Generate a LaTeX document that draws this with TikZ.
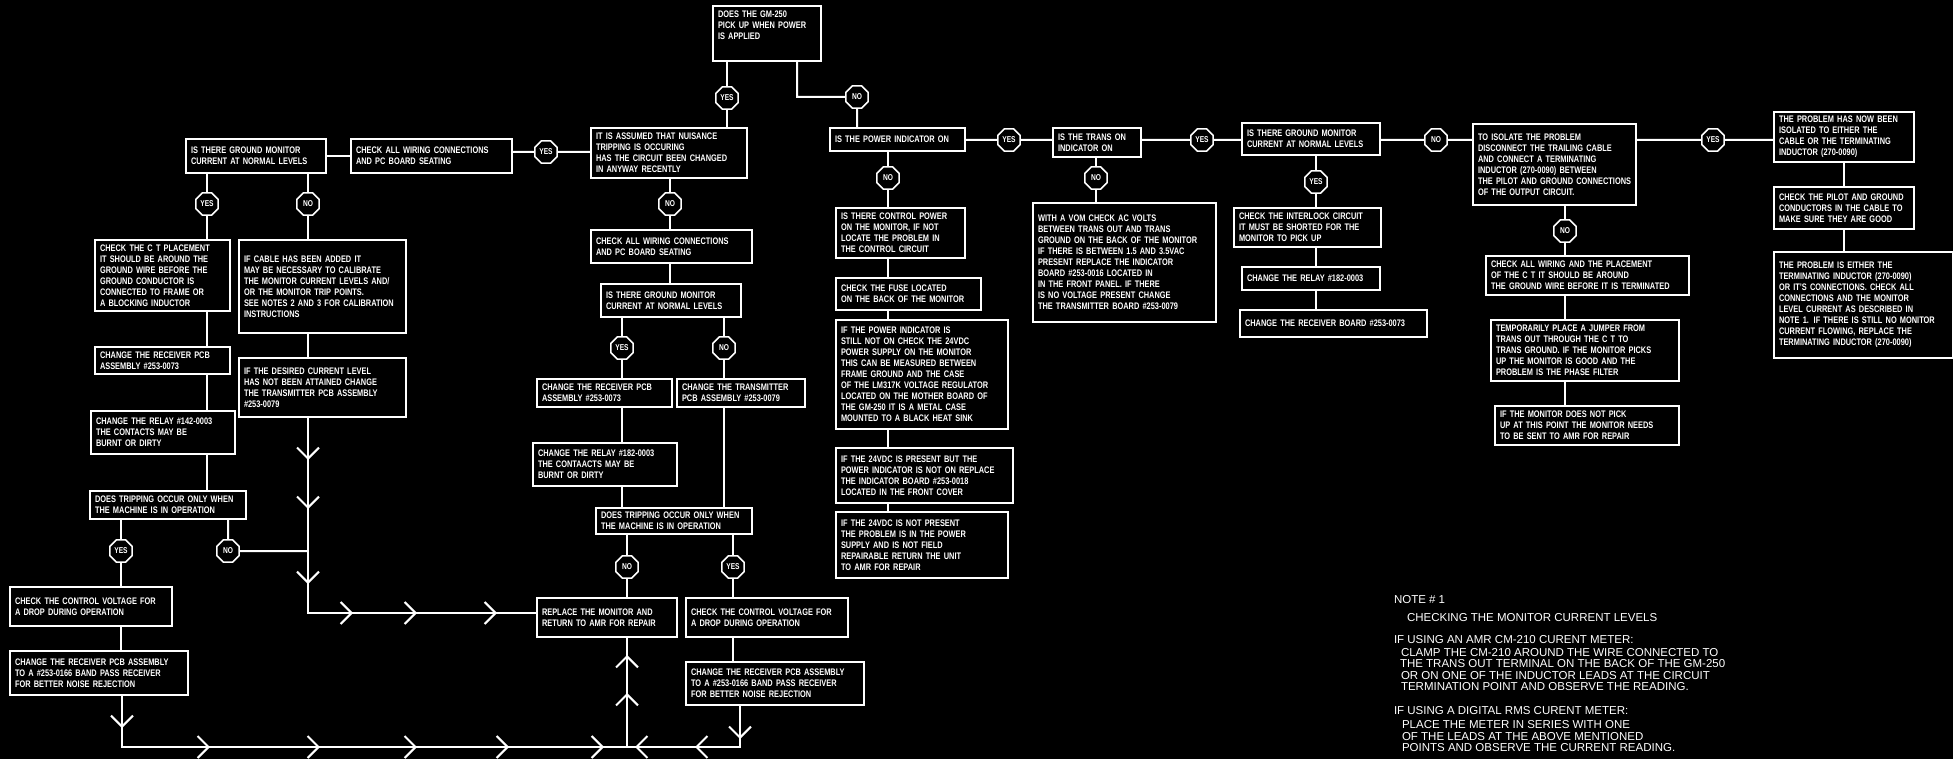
\documentclass[tikz,border=0pt]{standalone}
\usepackage{fontspec}
\setmainfont{Liberation Sans}[FakeStretch=0.78]
\newfontfamily\notefont{Liberation Sans}
\usetikzlibrary{arrows.meta,shapes.geometric,decorations.markings}

\begin{document}
\begin{tikzpicture}[x=1pt,y=-1pt,color=white,line width=2pt,
  box/.style={draw,anchor=north west,align=left,inner xsep=5pt,inner ysep=2pt,font=\fontsize{9.5}{11}\selectfont\bfseries},
  ask/.style={draw,fill=black,regular polygon,regular polygon sides=8,minimum size=24pt,inner sep=0pt,line width=1.6pt,font=\fontsize{8.5}{8.5}\selectfont\bfseries},
  chev/.style={postaction={decorate,decoration={markings,mark=at position #1 with {\arrow{Straight Barb[length=11pt,width=22pt]}}}}}]
\path[use as bounding box,fill=black] (0,0) rectangle (1953,759);
% ---------- left branch ----------
\node[box,text width=130pt,minimum height=34pt] (gmA) at (185,138) {IS THERE GROUND MONITOR\\CURRENT AT NORMAL LEVELS};
\node[box,text width=151pt,minimum height=34pt] (wireA) at (350,138) {CHECK ALL WIRING CONNECTIONS\\AND PC BOARD SEATING};
\node[box,text width=125pt,minimum height=71pt] (ctA) at (94,239) {CHECK THE C T PLACEMENT\\IT SHOULD BE AROUND THE\\GROUND WIRE BEFORE THE\\GROUND CONDUCTOR IS\\CONNECTED TO FRAME OR\\A BLOCKING INDUCTOR};
\node[box,text width=157pt,minimum height=93pt] (cable) at (238,239) {IF CABLE HAS BEEN ADDED IT\\MAY BE NECESSARY TO CALIBRATE\\THE MONITOR CURRENT LEVELS AND/\\OR THE MONITOR TRIP POINTS.\\SEE NOTES 2 AND 3 FOR CALIBRATION\\INSTRUCTIONS};
\node[box,text width=125pt,minimum height=27pt] (rcvA) at (94,346) {CHANGE THE RECEIVER PCB\\ASSEMBLY \#253-0073};
\node[box,text width=157pt,minimum height=59pt] (desired) at (238,357) {IF THE DESIRED CURRENT LEVEL\\HAS NOT BEEN ATTAINED CHANGE\\THE TRANSMITTER PCB ASSEMBLY\\\#253-0079};
\node[box,text width=134pt,minimum height=43pt] (relayA) at (90,410) {CHANGE THE RELAY \#142-0003\\THE CONTACTS MAY BE\\BURNT OR DIRTY};
\node[box,text width=146pt,minimum height=28pt] (tripA) at (89,490) {DOES TRIPPING OCCUR ONLY WHEN\\THE MACHINE IS IN OPERATION};
\node[box,text width=152pt,minimum height=39pt] (ctrlA) at (9,586) {CHECK THE CONTROL VOLTAGE FOR\\A DROP DURING OPERATION};
\node[box,text width=168pt,minimum height=44pt] (bandA) at (9,650) {CHANGE THE RECEIVER PCB ASSEMBLY\\TO A \#253-0166 BAND PASS RECEIVER\\FOR BETTER NOISE REJECTION};
% ---------- middle branch ----------
\node[box,text width=98pt,minimum height=55pt] (start) at (712,5) {DOES THE GM-250\\PICK UP WHEN POWER\\IS APPLIED\\[6pt]~};
\node[box,text width=146pt,minimum height=50pt] (nuis) at (590,127) {IT IS ASSUMED THAT NUISANCE\\TRIPPING IS OCCURING\\HAS THE CIRCUIT BEEN CHANGED\\IN ANYWAY RECENTLY};
\node[box,text width=151pt,minimum height=33pt] (wireB) at (590,229) {CHECK ALL WIRING CONNECTIONS\\AND PC BOARD SEATING};
\node[box,text width=130pt,minimum height=33pt] (gmB) at (600,283) {IS THERE GROUND MONITOR\\CURRENT AT NORMAL LEVELS};
\node[box,text width=125pt,minimum height=28pt] (rcvB) at (536,378) {CHANGE THE RECEIVER PCB\\ASSEMBLY \#253-0073};
\node[box,text width=118pt,minimum height=28pt] (xmitB) at (676,378) {CHANGE THE TRANSMITTER\\PCB ASSEMBLY \#253-0079};
\node[box,text width=134pt,minimum height=43pt] (relayB) at (532,442) {CHANGE THE RELAY \#182-0003\\THE CONTAACTS MAY BE\\BURNT OR DIRTY};
\node[box,text width=146pt,minimum height=26pt] (tripB) at (595,507) {DOES TRIPPING OCCUR ONLY WHEN\\THE MACHINE IS IN OPERATION};
\node[box,text width=130pt,minimum height=39pt] (replace) at (536,597) {REPLACE THE MONITOR AND\\RETURN TO AMR FOR REPAIR};
\node[box,text width=152pt,minimum height=39pt] (ctrlB) at (685,597) {CHECK THE CONTROL VOLTAGE FOR\\A DROP DURING OPERATION};
\node[box,text width=168pt,minimum height=43pt] (bandB) at (685,661) {CHANGE THE RECEIVER PCB ASSEMBLY\\TO A \#253-0166 BAND PASS RECEIVER\\FOR BETTER NOISE REJECTION};
% ---------- power indicator column ----------
\node[box,text width=125pt,minimum height=23pt] (power) at (829,127) {IS THE POWER INDICATOR ON};
\node[box,text width=119pt,minimum height=50pt] (ctrlpwr) at (835,207) {IS THERE CONTROL POWER\\ON THE MONITOR, IF NOT\\LOCATE THE PROBLEM IN\\THE CONTROL CIRCUIT};
\node[box,text width=135pt,minimum height=32pt] (fuse) at (835,277) {CHECK THE FUSE LOCATED\\ON THE BACK OF THE MONITOR};
\node[box,text width=162pt,minimum height=109pt] (supply) at (835,319) {IF THE POWER INDICATOR IS\\STILL NOT ON CHECK THE 24VDC\\POWER SUPPLY ON THE MONITOR\\THIS CAN BE MEASURED BETWEEN\\FRAME GROUND AND THE CASE\\OF THE LM317K VOLTAGE REGULATOR\\LOCATED ON THE MOTHER BOARD OF\\THE GM-250 IT IS A METAL CASE\\MOUNTED TO A BLACK HEAT SINK};
\node[box,text width=167pt,minimum height=55pt] (present) at (835,447) {IF THE 24VDC IS PRESENT BUT THE\\POWER INDICATOR IS NOT ON REPLACE\\THE INDICATOR BOARD \#253-0018\\LOCATED IN THE FRONT COVER};
\node[box,text width=162pt,minimum height=66pt] (absent) at (835,511) {IF THE 24VDC IS NOT PRESENT\\THE PROBLEM IS IN THE POWER\\SUPPLY AND IS NOT FIELD\\REPAIRABLE RETURN THE UNIT\\TO AMR FOR REPAIR};
% ---------- trans on / ground monitor ----------
\node[box,text width=78pt,minimum height=29pt] (transon) at (1052,127) {IS THE TRANS ON\\INDICATOR ON};
\node[box,text width=173pt,minimum height=119pt] (vom) at (1032,202) {WITH A VOM CHECK AC VOLTS\\BETWEEN TRANS OUT AND TRANS\\GROUND ON THE BACK OF THE MONITOR\\IF THERE IS BETWEEN 1.5 AND 3.5VAC\\PRESENT REPLACE THE INDICATOR\\BOARD \#253-0016 LOCATED IN\\IN THE FRONT PANEL. IF THERE\\IS NO VOLTAGE PRESENT CHANGE\\THE TRANSMITTER BOARD \#253-0079};
\node[box,text width=128pt,minimum height=32pt] (gmC) at (1241,122) {IS THERE GROUND MONITOR\\CURRENT AT NORMAL LEVELS};
\node[box,text width=137pt,minimum height=39pt] (interlock) at (1233,207) {CHECK THE INTERLOCK CIRCUIT\\IT MUST BE SHORTED FOR THE\\MONITOR TO PICK UP};
\node[box,text width=128pt,minimum height=23pt] (relayC) at (1241,266) {CHANGE THE RELAY \#182-0003};
\node[box,text width=177pt,minimum height=27pt] (rcvC) at (1239,309) {CHANGE THE RECEIVER BOARD \#253-0073};
% ---------- isolating the cable ----------
\node[box,text width=153pt,minimum height=81pt] (isolate) at (1472,123) {TO ISOLATE THE PROBLEM\\DISCONNECT THE TRAILING CABLE\\AND CONNECT A TERMINATING\\INDUCTOR (270-0090) BETWEEN\\\mbox{THE PILOT AND GROUND CONNECTIONS}\\OF THE OUTPUT CIRCUIT.};
\node[box,text width=193pt,minimum height=39pt] (placement) at (1485,255) {CHECK ALL WIRING AND THE PLACEMENT\\OF THE C T IT SHOULD BE AROUND\\THE GROUND WIRE BEFORE IT IS TERMINATED};
\node[box,text width=178pt,minimum height=61pt] (jumper) at (1490,319) {TEMPORARILY PLACE A JUMPER FROM\\TRANS OUT THROUGH THE C T TO\\TRANS GROUND. IF THE MONITOR PICKS\\UP THE MONITOR IS GOOD AND THE\\PROBLEM IS THE PHASE FILTER};
\node[box,text width=174pt,minimum height=39pt] (sendamr) at (1494,405) {IF THE MONITOR DOES NOT PICK\\UP AT THIS POINT THE MONITOR NEEDS\\TO BE SENT TO AMR FOR REPAIR};
\node[box,text width=130pt,minimum height=50pt] (isolated) at (1773,111) {THE PROBLEM HAS NOW BEEN\\ISOLATED TO EITHER THE\\CABLE OR THE TERMINATING\\INDUCTOR (270-0090)};
\node[box,text width=130pt,minimum height=42pt] (pilot) at (1773,186) {CHECK THE PILOT AND GROUND\\CONDUCTORS IN THE CABLE TO\\MAKE SURE THEY ARE GOOD};
\node[box,text width=169pt,minimum height=106pt] (either) at (1773,251) {THE PROBLEM IS EITHER THE\\TERMINATING INDUCTOR (270-0090)\\OR IT'S CONNECTIONS. CHECK ALL\\CONNECTIONS AND THE MONITOR\\LEVEL CURRENT AS DESCRIBED IN\\NOTE 1. IF THERE IS STILL NO MONITOR\\CURRENT FLOWING, REPLACE THE\\TERMINATING INDUCTOR (270-0090)};
% ---------- yes / no marks ----------
\node[ask] (yA) at (207,204) {YES};
\node[ask] (nA) at (308,204) {NO};
\node[ask] (yB) at (546,152) {YES};
\node[ask] (yT) at (727,98) {YES};
\node[ask] (nT) at (857,97) {NO};
\node[ask] (nK) at (670,204) {NO};
\node[ask] (yM) at (622,348) {YES};
\node[ask] (nM) at (724,348) {NO};
\node[ask] (yH) at (121,551) {YES};
\node[ask] (nH) at (228,551) {NO};
\node[ask] (nW) at (627,567) {NO};
\node[ask] (yW) at (733,567) {YES};
\node[ask] (yP) at (1009,140) {YES};
\node[ask] (nP) at (888,178) {NO};
\node[ask] (yD) at (1202,140) {YES};
\node[ask] (nD) at (1096,178) {NO};
\node[ask] (nC) at (1436,140) {NO};
\node[ask] (yC) at (1316,182) {YES};
\node[ask] (nG) at (1565,231) {NO};
\node[ask] (yG) at (1713,140) {YES};
% junctions
\coordinate (jF) at (308,613);
\coordinate (jT) at (797,97);
\coordinate (jL) at (122,747);
\coordinate (jM) at (627,747);
\coordinate (jR) at (740,747);
% ---------- connectors, left ----------
\draw (gmA) -- (wireA);
\draw (yB -| wireA.east) -- (yB) -- (yB -| nuis.west);
\draw (yA |- gmA.south) -- (yA) -- (yA |- ctA.north);
\draw (nA |- gmA.south) -- (nA) -- (nA |- cable.north);
\draw (yA |- ctA.south) -- (yA |- rcvA.north);
\draw (yA |- rcvA.south) -- (yA |- relayA.north);
\draw (yA |- relayA.south) -- (yA |- tripA.north);
\draw (nA |- cable.south) -- (nA |- desired.north);
\draw[chev=42pt,chev=91pt,chev=166pt,chev=240pt,chev=304pt,chev=384pt] (nA |- desired.south) -- (jF) -- (jF -| replace.west);
\draw (yH |- tripA.south) -- (yH) -- (yH |- ctrlA.north);
\draw (nH |- tripA.south) -- (nH) -- (nH -| jF);
\draw (yH |- ctrlA.south) -- (yH |- bandA.north);
\draw[chev=32pt,chev=139pt,chev=249pt,chev=346pt,chev=438pt,chev=533pt] (jL |- bandA.south) -- (jL) -- (jM);
\draw[chev=33pt,chev=86pt,chev=146pt] (jR |- bandB.south) -- (jR) -- (jM);
\draw[chev=54pt,chev=92pt] (jM) -- (jM |- replace.south);
% ---------- connectors, middle ----------
\draw (yT |- start.south) -- (yT) -- (yT |- nuis.north);
\draw (jT |- start.south) -- (jT) -- (nT) -- (nT |- power.north);
\draw (nK |- nuis.south) -- (nK) -- (nK |- wireB.north);
\draw (nK |- wireB.south) -- (nK |- gmB.north);
\draw (yM |- gmB.south) -- (yM) -- (yM |- rcvB.north);
\draw (nM |- gmB.south) -- (nM) -- (nM |- xmitB.north);
\draw (yM |- rcvB.south) -- (yM |- relayB.north);
\draw (yM |- relayB.south) -- (yM |- tripB.north);
\draw (nM |- xmitB.south) -- (nM |- tripB.north);
\draw (nW |- tripB.south) -- (nW) -- (nW |- replace.north);
\draw (yW |- tripB.south) -- (yW) -- (yW |- ctrlB.north);
\draw (yW |- ctrlB.south) -- (yW |- bandB.north);
% ---------- connectors, right ----------
\draw (yP -| power.east) -- (yP) -- (yP -| transon.west);
\draw (nP |- power.south) -- (nP) -- (nP |- ctrlpwr.north);
\draw (nP |- ctrlpwr.south) -- (nP |- fuse.north);
\draw (nP |- fuse.south) -- (nP |- supply.north);
\draw (nP |- supply.south) -- (nP |- present.north);
\draw (nP |- present.south) -- (nP |- absent.north);
\draw (yD -| transon.east) -- (yD) -- (yD -| gmC.west);
\draw (nD |- transon.south) -- (nD) -- (nD |- vom.north);
\draw (nC -| gmC.east) -- (nC) -- (nC -| isolate.west);
\draw (yC |- gmC.south) -- (yC) -- (yC |- interlock.north);
\draw (yC |- interlock.south) -- (yC |- relayC.north);
\draw (yC |- relayC.south) -- (yC |- rcvC.north);
\draw (yG -| isolate.east) -- (yG) -- (yG -| isolated.west);
\draw (nG |- isolate.south) -- (nG) -- (nG |- placement.north);
\draw (nG |- placement.south) -- (nG |- jumper.north);
\draw (nG |- jumper.south) -- (nG |- sendamr.north);
\draw (isolated) -- (pilot);
\draw (pilot.south) -- (pilot.south |- either.north);
% ---------- note ----------
\node[anchor=north west,inner sep=0pt,align=left,font=\notefont\fontsize{11.5}{11.5}\selectfont] (note) at (1393,594) {NOTE \# 1\\[6.5pt]
\hspace*{13pt}CHECKING THE MONITOR CURRENT LEVELS\\[10.5pt]
IF USING AN AMR CM-210 CURENT METER:\\[1.5pt]
\hspace*{7pt}CLAMP THE CM-210 AROUND THE WIRE CONNECTED TO\\
\hspace*{6pt}THE TRANS OUT TERMINAL ON THE BACK OF THE GM-250\\
\hspace*{7pt}OR ON ONE OF THE INDUCTOR LEADS AT THE CIRCUIT\\
\hspace*{7pt}TERMINATION POINT AND OBSERVE THE READING.\\[12.5pt]
IF USING A DIGITAL RMS CURENT METER:\\[2.5pt]
\hspace*{8pt}PLACE THE METER IN SERIES WITH ONE\\
\hspace*{8pt}OF THE LEADS AT THE ABOVE MENTIONED\\
\hspace*{8pt}POINTS AND OBSERVE THE CURRENT READING.};
\end{tikzpicture}
\end{document}
